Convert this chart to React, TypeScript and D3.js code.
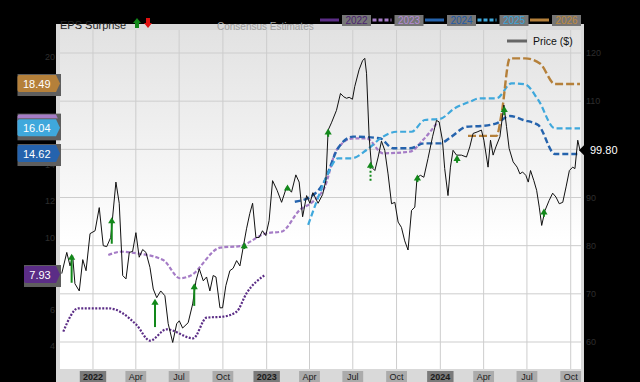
import React, { useEffect } from "react";
import * as d3 from "d3";

const W = 640;
const H = 382;

// weekly close (decimal year, price $)
const price: [number, number][] = [
  [2021.820,74.2],[2021.849,78.6],[2021.868,75.8],[2021.883,77.9],[2021.896,72.1],[2021.921,70.6],[2021.941,77.1],[2021.960,74.8],[2021.983,82.5],[2022.012,83.1],[2022.036,87.9],[2022.059,80.0],[2022.079,79.8],[2022.102,81.7],[2022.132,93.2],[2022.151,88.8],[2022.171,73.8],[2022.190,73.1],[2022.209,78.6],[2022.228,78.8],[2022.247,82.7],[2022.266,77.6],[2022.286,79.2],[2022.305,78.6],[2022.328,75.5],[2022.347,71.0],[2022.367,69.2],[2022.390,70.6],[2022.414,69.6],[2022.433,63.8],[2022.459,59.9],[2022.482,63.8],[2022.497,64.4],[2022.516,62.9],[2022.548,64.0],[2022.574,67.9],[2022.593,72.7],[2022.612,75.2],[2022.635,72.7],[2022.654,73.5],[2022.673,70.6],[2022.692,73.8],[2022.708,73.5],[2022.731,67.1],[2022.746,67.1],[2022.765,71.7],[2022.788,74.8],[2022.807,75.3],[2022.827,76.9],[2022.846,75.8],[2022.865,79.7],[2022.884,83.5],[2022.903,86.7],[2022.919,88.8],[2022.938,81.7],[2022.957,81.7],[2022.976,83.1],[2022.995,82.1],[2023.014,85.2],[2023.034,93.5],[2023.060,91.5],[2023.086,89.0],[2023.115,92.2],[2023.143,91.1],[2023.168,94.7],[2023.187,93.2],[2023.207,86.0],[2023.230,90.4],[2023.249,88.8],[2023.266,91.0],[2023.296,88.8],[2023.322,90.6],[2023.341,93.5],[2023.354,104.0],[2023.373,105.5],[2023.402,108.1],[2023.425,111.6],[2023.444,110.9],[2023.460,110.6],[2023.475,110.8],[2023.494,110.4],[2023.507,113.0],[2023.532,116.5],[2023.552,118.4],[2023.565,118.9],[2023.575,115.8],[2023.590,102.6],[2023.604,96.3],[2023.623,95.6],[2023.642,98.4],[2023.661,101.7],[2023.680,99.8],[2023.699,94.9],[2023.719,88.7],[2023.738,89.0],[2023.757,84.9],[2023.776,83.8],[2023.795,81.0],[2023.814,79.1],[2023.834,87.3],[2023.853,88.0],[2023.866,94.2],[2023.886,94.6],[2023.905,94.2],[2023.929,98.1],[2023.955,102.6],[2023.978,106.0],[2023.993,105.7],[2024.012,101.9],[2024.025,96.0],[2024.044,90.4],[2024.058,96.3],[2024.073,99.8],[2024.093,98.8],[2024.121,98.8],[2024.150,98.4],[2024.169,100.5],[2024.188,103.3],[2024.211,103.6],[2024.236,104.0],[2024.250,101.9],[2024.274,96.3],[2024.288,101.9],[2024.303,98.8],[2024.319,100.5],[2024.342,102.6],[2024.365,109.2],[2024.380,104.7],[2024.395,100.2],[2024.418,97.4],[2024.441,96.3],[2024.457,94.9],[2024.472,95.3],[2024.491,94.6],[2024.505,93.2],[2024.518,95.6],[2024.537,93.5],[2024.553,91.5],[2024.568,88.0],[2024.582,84.2],[2024.601,87.3],[2024.625,89.4],[2024.645,90.9],[2024.664,90.1],[2024.683,88.7],[2024.703,89.0],[2024.722,92.2],[2024.741,95.6],[2024.760,96.3],[2024.773,96.0],[2024.789,101.9],[2024.802,99.8],
];

const years = ["2022", "2023", "2024", "2025", "2026"];

// consensus EPS estimates (decimal year, EPS)
const est2022: [number, number][] = [
  [2021.829,4.80],[2021.915,6.09],[2022.088,6.09],[2022.251,5.17],[2022.328,4.30],[2022.424,4.93],[2022.577,4.43],[2022.654,5.57],[2022.750,5.63],[2022.827,5.90],[2022.884,6.92],[2022.990,7.93],
];
const est2023: [number, number][] = [
  [2022.088,9.04],[2022.165,9.22],[2022.251,9.13],[2022.404,8.76],[2022.501,7.75],[2022.558,7.88],[2022.731,9.44],[2022.846,9.53],[2022.999,10.24],[2023.086,10.33],[2023.191,11.53],[2023.268,12.00],[2023.335,12.81],[2023.402,14.84],[2023.498,15.49],[2023.575,15.49],[2023.670,14.66],[2023.824,14.75],[2023.900,15.39],[2023.978,16.30],
];
const est2024: [number, number][] = [
  [2023.162,11.98],[2023.268,12.35],[2023.325,12.98],[2023.411,14.94],[2023.498,15.58],[2023.651,15.49],[2023.728,14.94],[2023.824,14.94],[2023.910,15.21],[2023.997,15.21],[2024.064,15.58],[2024.150,16.13],[2024.236,16.17],[2024.323,16.32],[2024.399,16.72],[2024.476,16.50],[2024.562,16.22],[2024.658,14.62],[2024.802,14.62],
];
const est2025: [number, number][] = [
  [2023.239,10.70],[2023.287,11.98],[2023.345,13.37],[2023.411,14.38],[2023.488,14.38],[2023.575,14.84],[2023.670,15.58],[2023.747,15.85],[2023.834,15.85],[2023.910,16.50],[2023.997,16.56],[2024.083,17.15],[2024.169,17.51],[2024.227,17.70],[2024.323,17.70],[2024.409,18.53],[2024.486,18.47],[2024.562,17.61],[2024.658,16.04],[2024.802,16.04],
];
const est2026: [number, number][] = [
  [2024.159,15.62],[2024.323,15.62],[2024.352,16.87],[2024.399,19.91],[2024.486,19.91],[2024.572,19.63],[2024.658,18.49],[2024.802,18.49],
];
const estimates = [est2022, est2023, est2024, est2025, est2026];

// EPS surprises: decimal year, arrow base price, arrow tip price
const surprises: [number, number, number][] = [
  [2021.877,72.3,78.3],[2022.108,80.4,85.9],[2022.357,63.1,69.0],[2022.583,67.5,72.2],[2022.871,79.3,80.7],[2023.120,91.5,92.7],[2023.354,102.6,104.3],[2023.598,93.5,97.4],[2023.868,93.2,94.8],[2024.096,97.2,98.8],[2024.367,107.1,109.0],[2024.595,86.0,87.7],
];
const surpriseBeatTypes = ["solid","solid","solid","solid","solid","solid","solid","dashed","solid","solid","solid","solid"];

const priceTicks = [60, 70, 80, 90, 100, 110, 120];
const epsTicks = [4, 6, 8, 10, 12, 14, 16, 18, 20];

// styles
const seriesColor = ["#5b2d86", "#a57cc6", "#2563ad", "#3fa8dc", "#b5803a"];
const seriesTextColor = ["#4a2270", "#b48ad6", "#1f5aa6", "#3aa4da", "#c08a3c"];
const seriesDash = ["2,1.5", "4,2", "6,3", "6,3", "8,3"];
const seriesWidth = [2.2, 2.2, 2.4, 2.2, 2.4];
const FONT = "'Liberation Sans', Arial, sans-serif";

function yearToDate(t: number): Date {
  const y = Math.floor(t);
  const a = Date.UTC(y, 0, 1);
  const b = Date.UTC(y + 1, 0, 1);
  return new Date(a + (t - y) * (b - a));
}

export default function App() {
  useEffect(() => {
    document.body.style.margin = "0";
    document.body.style.background = "#000";
  }, []);

  const plot = { left: 60, right: 581, top: 30, bottom: 369 };

  const x = d3
    .scaleUtc()
    .domain([yearToDate(price[0][0] - 0.01), yearToDate(price[price.length - 1][0])])
    .range([plot.left, 580]);
  const yPrice = d3.scaleLinear().domain([60, 120]).range([342, 53]);
  const yEps = d3.scaleLinear().domain([4, 20]).range([346.1, 56.7]);

  const priceLine = d3
    .line<[number, number]>()
    .x((d) => x(yearToDate(d[0])))
    .y((d) => yPrice(d[1]));
  const estLine = d3
    .line<[number, number]>()
    .x((d) => x(yearToDate(d[0])))
    .y((d) => yEps(d[1]))
    .curve(d3.curveMonotoneX);

  const quarterTicks = x.ticks(d3.utcMonth.every(3) as any);
  const fmtMonth = d3.utcFormat("%b");
  const fmtYear = d3.utcFormat("%Y");

  const legendStart = 320;
  const legendStep = 52.5;

  const lastPrice = price[price.length - 1];
  const lastPriceY = yPrice(lastPrice[1]);

  // badges and the tick labels they hide
  const badges = estimates.map((s, i) => {
    const v = s[s.length - 1][1];
    return { i, v, cy: yEps(v) };
  });
  const hiddenEpsTick = (t: number) =>
    badges.some((b) => Math.abs(yEps(t) - b.cy) < 7);
  const hiddenPriceTick = (t: number) => Math.abs(yPrice(t) - lastPriceY) < 7;
  // a badge is covered by a later badge when they nearly coincide
  const coveredBadge = (k: number) =>
    badges.some((b, j) => j > k && Math.abs(b.cy - badges[k].cy) < 10);

  return (
    <svg width={W} height={H} style={{ display: "block", background: "#000" }} fontFamily={FONT}>
      <defs>
        <linearGradient id="plotBg" x1="0" y1="0" x2="0" y2="1">
          <stop offset="0%" stopColor="#e2e2e2" />
          <stop offset="50%" stopColor="#f9f9f9" />
          <stop offset="62%" stopColor="#ffffff" />
          <stop offset="100%" stopColor="#ffffff" />
        </linearGradient>
        <clipPath id="plotClip">
          <rect x={plot.left} y={plot.top} width={plot.right - plot.left} height={plot.bottom - plot.top} />
        </clipPath>
      </defs>
      <rect x={0} y={0} width={W} height={H} fill="#000" />

      {/* frame */}
      <rect x={56} y={24} width={528} height={H - 24} fill="#d9d9d9" />
      <rect
        x={plot.left}
        y={plot.top}
        width={plot.right - plot.left}
        height={plot.bottom - plot.top}
        fill="url(#plotBg)"
      />

      {/* grid */}
      {priceTicks.map((t) => (
        <line key={"h" + t} x1={plot.left} x2={plot.right} y1={yPrice(t)} y2={yPrice(t)} stroke="#cdcdcd" strokeWidth={1} />
      ))}
      {quarterTicks.map((d, i) => (
        <line key={"v" + i} x1={x(d)} x2={x(d)} y1={plot.top} y2={plot.bottom} stroke="#cdcdcd" strokeWidth={1} />
      ))}

      <g clipPath="url(#plotClip)">
        {estimates.map((s, i) => (
          <path
            key={"e" + i}
            d={estLine(s) || ""}
            fill="none"
            stroke={seriesColor[i]}
            strokeWidth={seriesWidth[i]}
            strokeDasharray={seriesDash[i]}
          />
        ))}
        <path d={priceLine(price) || ""} fill="none" stroke="#111" strokeWidth={1} />

        {surprises.map((s, i) => {
          const cx = x(yearToDate(s[0]));
          const yb = yPrice(s[1]);
          const yt = yPrice(s[2]);
          return (
            <g key={"s" + i}>
              <line
                x1={cx}
                x2={cx}
                y1={yb}
                y2={yt + 4}
                stroke="#12881a"
                strokeWidth={2}
                strokeDasharray={surpriseBeatTypes[i] === "dashed" ? "2,2" : undefined}
              />
              <path d={`M${cx},${yt} L${cx - 3.6},${yt + 6} L${cx + 3.6},${yt + 6} Z`} fill="#12881a" />
            </g>
          );
        })}
      </g>

      {/* price legend */}
      <line x1={507} x2={527} y1={41} y2={41} stroke="#666" strokeWidth={3} />
      <text x={533} y={45} fontSize={10.5} fill="#111">
        Price ($)
      </text>

      {/* x axis labels */}
      {quarterTicks.map((d, i) => {
        const isYear = d.getUTCMonth() === 0;
        const label = isYear ? fmtYear(d) : fmtMonth(d);
        const w = label.length * 5.6 + 4;
        return (
          <g key={"xl" + i}>
            <rect x={x(d) - w / 2} y={371} width={w} height={11} fill={isYear ? "#7a7a7a" : "#ababab"} />
            <text x={x(d)} y={380} fontSize={9} textAnchor="middle" fill="#1a1a1a" fontWeight={isYear ? "bold" : "normal"}>
              {label}
            </text>
          </g>
        );
      })}

      {/* left EPS axis labels */}
      {epsTicks
        .filter((t) => !hiddenEpsTick(t))
        .map((t) => (
          <text key={"el" + t} x={55} y={yEps(t) + 3} fontSize={9} textAnchor="end" fill="#2e2e2e">
            {t}
          </text>
        ))}
      {/* right price axis labels */}
      {priceTicks
        .filter((t) => !hiddenPriceTick(t))
        .map((t) => (
          <text key={"pl" + t} x={586} y={yPrice(t) + 3} fontSize={9} textAnchor="start" fill="#2e2e2e">
            {t}
          </text>
        ))}

      {/* EPS badges */}
      {badges.map((b, k) => {
        const { i, v, cy } = b;
        const label = v.toFixed(2);
        const w = label.length * 6.5 + 6;
        const right = 56;
        const left = right - w;
        return (
          <g key={"b" + i}>
            <rect x={left} y={cy - 10} width={w + 5} height={22} fill="#5e5e5e" />
            <path
              d={`M${left + 2},${cy - 9} L${right},${cy - 9} L${right + 4},${cy - 0.5} L${right},${cy + 8} L${left + 2},${cy + 8} Q${left},${cy + 8} ${left},${cy + 6} L${left},${cy - 7} Q${left},${cy - 9} ${left + 2},${cy - 9} Z`}
              fill={seriesColor[i]}
            />
            {!coveredBadge(k) && (
              <text x={left + w / 2} y={cy + 4} fontSize={11} textAnchor="middle" fill="#fff">
                {label}
              </text>
            )}
          </g>
        );
      })}

      {/* last price badge */}
      <g>
        <path
          d={`M579,${lastPriceY} L586,${lastPriceY - 7} L620,${lastPriceY - 7} L620,${lastPriceY + 7} L586,${lastPriceY + 7} Z`}
          fill="#000"
        />
        <text x={590} y={lastPriceY + 4} fontSize={11} fill="#fff">
          {lastPrice[1].toFixed(2)}
        </text>
      </g>

      {/* top legend */}
      <text x={60} y={29} fontSize={11} fill="#232323">
        EPS Surprise
      </text>
      <path d="M137,18 L141,23 L139,23 L139,28 L135,28 L135,23 L133,23 Z" fill="#12881a" />
      <path d="M148,28 L152,23 L150,23 L150,18 L146,18 L146,23 L144,23 Z" fill="#e01010" />
      <text x={217} y={30} fontSize={10} fill="#a0a0a0">
        Consensus Estimates
      </text>
      {years.map((yr, i) => {
        const lx = legendStart + i * legendStep;
        return (
          <g key={"lg" + yr}>
            <line
              x1={lx}
              x2={lx + 19}
              y1={20}
              y2={20}
              stroke={seriesColor[i]}
              strokeWidth={3}
              strokeDasharray={i % 2 === 1 ? "4,2" : undefined}
            />
            <rect x={lx + 22} y={15} width={29} height={11} fill="#767676" />
            <text x={lx + 36.5} y={24} fontSize={10} textAnchor="middle" fill={seriesTextColor[i]}>
              {yr}
            </text>
          </g>
        );
      })}
    </svg>
  );
}
